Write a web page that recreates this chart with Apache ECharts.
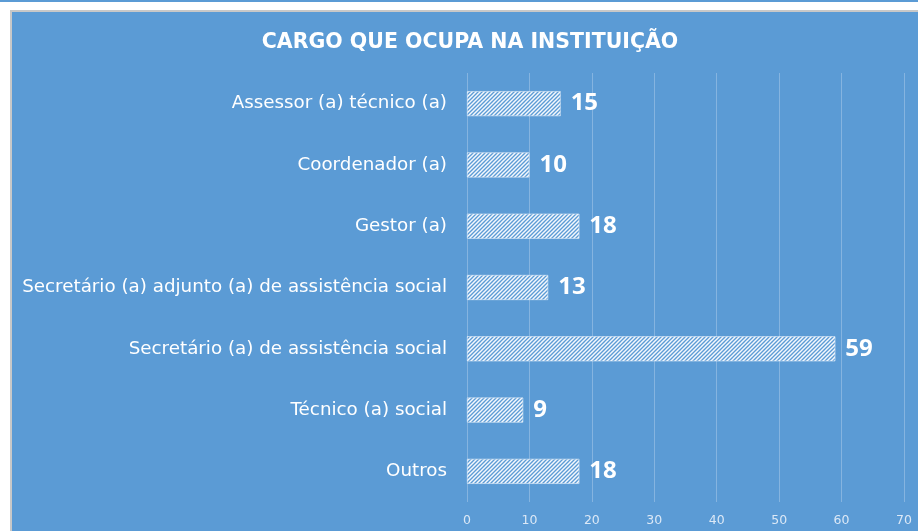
<!DOCTYPE html>
<html>
<head>
<meta charset="utf-8">
<script src="https://cdn.jsdelivr.net/npm/echarts@6/dist/echarts.min.js"></script>
<style>
  html, body { margin: 0; padding: 0; background: #fff; }
  #chart { width: 918px; height: 531px; }
</style>
</head>
<body>
<div id="chart"></div>
<script>
  const categories = [
    "Assessor (a) técnico (a)",
    "Coordenador (a)",
    "Gestor (a)",
    "Secretário (a) adjunto (a) de assistência social",
    "Secretário (a) de assistência social",
    "Técnico (a) social",
    "Outros"
  ];
  const values = [15, 10, 18, 13, 59, 9, 18];
  const xTicks = [0, 10, 20, 30, 40, 50, 60, 70];

  const blue = "#5b9bd5";

  // hatched fill like the spreadsheet pattern
  const makeHatch = () => {
    const c = document.createElement("canvas");
    c.width = 4;
    c.height = 4;
    const ctx = c.getContext("2d");
    ctx.fillStyle = blue;
    ctx.fillRect(0, 0, 4, 4);
    ctx.strokeStyle = "#f4f8fd";
    ctx.lineWidth = 1.5;
    ctx.beginPath();
    ctx.moveTo(0, 4);
    ctx.lineTo(4, 0);
    ctx.moveTo(-1, 1);
    ctx.lineTo(1, -1);
    ctx.moveTo(3, 5);
    ctx.lineTo(5, 3);
    ctx.stroke();
    return c;
  };

  const chart = echarts.init(document.getElementById("chart"));
  chart.setOption({
    backgroundColor: "#ffffff",
    animation: false,
    graphic: [
      { type: "rect", shape: { x: 0, y: 0, width: 918, height: 2 }, style: { fill: blue }, z: -10 },
      {
        type: "rect",
        shape: { x: 11, y: 11, width: 920, height: 540 },
        style: { fill: blue, stroke: "#c8c8c8", lineWidth: 2 },
        z: -10
      }
    ],
    title: {
      text: "CARGO QUE OCUPA NA INSTITUIÇÃO",
      left: 465,
      top: 27,
      textAlign: "center",
      textStyle: {
        color: "#ffffff",
        fontFamily: "DejaVu Sans",
        fontWeight: "bold",
        fontSize: 20.5
      }
    },
    grid: { left: 467, right: 14, top: 73, bottom: 29, containLabel: false },
    xAxis: {
      type: "value",
      min: 0,
      max: 70,
      interval: 10,
      axisLine: { show: false },
      axisTick: { show: false },
      axisLabel: {
        color: "#dbe8f6",
        fontFamily: "DejaVu Sans",
        fontSize: 12.5,
        margin: 12,
        formatter: (v) => (xTicks.includes(v) ? String(v) : "")
      },
      splitLine: { show: true, lineStyle: { color: "#85b4e0", width: 1 } }
    },
    yAxis: {
      type: "category",
      inverse: true,
      data: categories,
      axisLine: { show: false },
      axisTick: { show: false },
      axisLabel: {
        color: "#ffffff",
        fontFamily: "DejaVu Sans",
        fontSize: 18.3,
        margin: 20
      }
    },
    series: [
      {
        type: "bar",
        data: values,
        barWidth: 25,
        itemStyle: {
          color: { image: makeHatch(), repeat: "repeat" },
          borderColor: "#e6f0fa",
          borderWidth: 0.6
        },
        label: {
          show: true,
          position: "right",
          distance: 10,
          color: "#ffffff",
          fontFamily: "Open Sans",
          fontWeight: "bold",
          fontSize: 24
        }
      }
    ]
  });
</script>
</body>
</html>
